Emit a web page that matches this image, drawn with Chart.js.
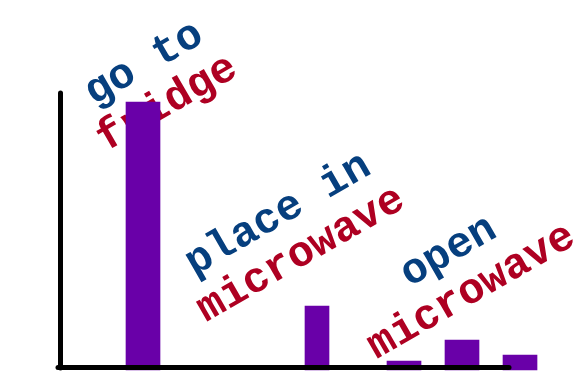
<!DOCTYPE html>
<html>
<head>
<meta charset="utf-8">
<script src="https://cdn.jsdelivr.net/npm/chart.js@4/dist/chart.umd.min.js"></script>
<style>
  html, body { margin: 0; padding: 0; background: #ffffff; }
  #wrap { width: 585px; height: 386px; }
</style>
</head>
<body>
<div id="wrap"><canvas id="c" width="585" height="386"></canvas></div>
<script>
// ---- data ----
const steps = [0, 6, 9, 11, 13];              // position of each bar along the axis
const counts = [97.4, 22.4, 2.2, 9.9, 4.4];   // bar heights
const narrowIndex = [1];                       // bars drawn narrower
const labelLines = [
  ["go to", "fridge"],
  ["place in", "microwave"],
  ["open", "microwave"]
];
const labelX = [0.47, 5.09, 10.97];            // label anchor along the axis (data units)
const labelY = [103.5, 48.0, 34.4];            // label anchor height (data units)

// ---- build datasets ----
const wideData = [], narrowData = [];
steps.forEach((s, i) => {
  (narrowIndex.includes(i) ? narrowData : wideData).push({ x: s, y: counts[i] });
});

const PURPLE = '#6900a8';
const BLUE = '#063f7e';
const RED = '#ae0022';

const labelPlugin = {
  id: 'rotLabels',
  beforeDraw(chart) {
    chart.ctx.lineCap = 'round';
  },
  beforeDatasetsDraw(chart) {
    const ctx = chart.ctx;
    const xs = chart.scales.x, ys = chart.scales.y;
    ctx.save();
    ctx.font = 'bold 43px "Liberation Mono", "Courier New", monospace';
    ctx.textAlign = 'center';
    ctx.textBaseline = 'alphabetic';
    labelLines.forEach((lines, i) => {
      const cx = xs.getPixelForValue(labelX[i]);
      const cy = ys.getPixelForValue(labelY[i]);
      ctx.save();
      ctx.translate(cx, cy);
      ctx.rotate(-30 * Math.PI / 180);
      ctx.fillStyle = BLUE;
      ctx.fillText(lines[0], 0, -23 + 9);
      ctx.fillStyle = RED;
      ctx.fillText(lines[1], 0, 23 + 9);
      ctx.restore();
    });
    ctx.restore();
  }
};

new Chart(document.getElementById('c'), {
  type: 'bar',
  data: {
    datasets: [
      { data: wideData, backgroundColor: PURPLE, barThickness: 34, grouped: false, clip: false, base: -1.1 },
      { data: narrowData, backgroundColor: PURPLE, barThickness: 24, grouped: false, clip: false, base: -1.1 }
    ]
  },
  options: {
    responsive: false,
    animation: false,
    events: [],
    layout: { padding: { left: 60, top: 95, right: 77, bottom: 19 } },
    plugins: { legend: { display: false }, tooltip: { enabled: false }, title: { display: false } },
    scales: {
      x: {
        type: 'linear',
        offset: false,
        min: -2.862,
        max: 12.586,
        ticks: { display: false },
        grid: { display: false, drawTicks: false, tickLength: 0 },
        border: { display: true, color: '#000000', width: 5, z: 1 }
      },
      y: {
        type: 'linear',
        min: 0,
        max: 100,
        ticks: { display: false },
        grid: { display: false, drawTicks: false, tickLength: 0 },
        border: { display: true, color: '#000000', width: 5, z: 1 }
      }
    }
  },
  plugins: [labelPlugin]
});
</script>
</body>
</html>
